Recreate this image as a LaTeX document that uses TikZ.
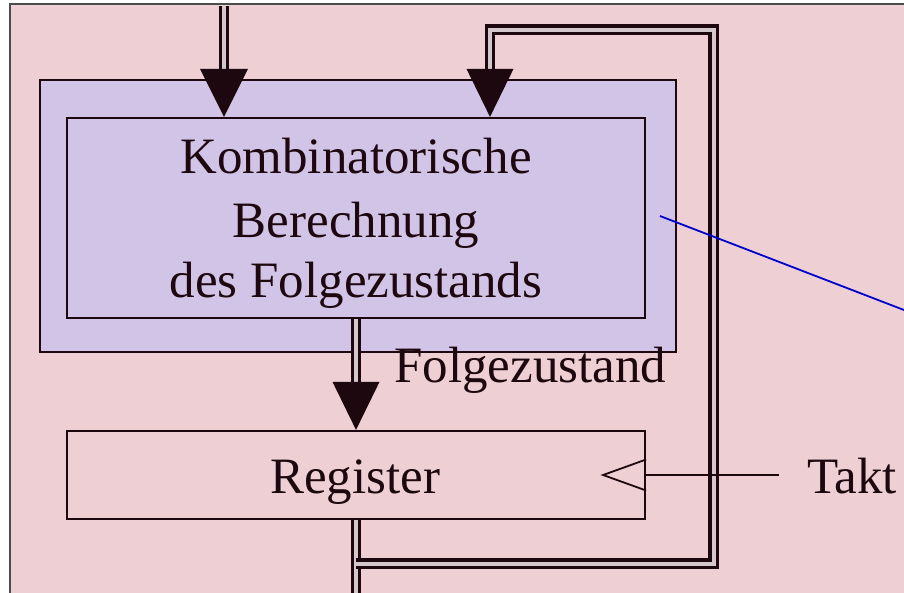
\documentclass[tikz,border=0pt]{standalone}
\usepackage{fontspec}
\setmainfont{Liberation Serif}
\usetikzlibrary{calc}
\definecolor{paper}{RGB}{238,208,212}
\definecolor{shadefill}{RGB}{210,196,230}
\definecolor{ink}{RGB}{30,8,16}
\definecolor{wirecol}{RGB}{0,0,205}
\definecolor{gapfill}{RGB}{212,200,204}
\begin{document}
\begin{tikzpicture}[x=1pt,y=-1pt,
  box/.style={draw=ink, line width=2.2pt, rectangle, inner sep=0pt},
  lbl/.style={text=ink, inner sep=0pt, font=\fontsize{51}{60}\selectfont},
  dbl/.style={draw=ink, line width=3.2pt, double=gapfill, double distance=4pt},
  head/.style={fill=ink},
  thinline/.style={draw=ink, line width=1.8pt},
  wireline/.style={draw=wirecol, line width=1.8pt},
]
\useasboundingbox (0,0) rectangle (904,592);
\fill[white] (0,0) rectangle (904,592);
\begin{scope}
\clip (0,0) rectangle (904,592);
% page frame
\draw[fill=paper, draw=black!70, line width=2pt] (10,4) rectangle (960,640);

% shaded block and the combinational logic
\node[box, fill=shadefill, minimum width=636pt, minimum height=272pt] (shadebox) at (358,216) {};
\node[box, minimum width=578pt, minimum height=200pt] (logic) at (356,218) {};
\node[lbl, anchor=base] (l1) at (356,173) {Kombinatorische};
\node[lbl, anchor=base] (l2) at (356,237) {Berechnung};
\node[lbl, anchor=base] (l3) at (356,297) {des Folgezustands};

% register
\node[box, minimum width=578pt, minimum height=88pt] (reg) at (356,475) {};
\node[lbl, anchor=base] (regtext) at (355,493) {Register};

\node[lbl, anchor=base west] (next) at (394,382) {Folgezustand};
\node[lbl, anchor=base west] (takt) at (807,493) {Takt};

% external input
\coordinate (in1) at (224,6);
\draw[dbl] (in1) -- ($(logic.north -| in1)+(0,-46)$);
\fill[head] (logic.north -| in1) -- ++(-24,-48) -- ++(48,0) -- cycle;

% next state into the register
\draw[dbl] (logic.south) -- ($(reg.north)+(0,-46)$);
\fill[head] (reg.north) -- ++(-23.5,-48) -- ++(47,0) -- cycle;

% register output
\coordinate (out) at (356,600);
\draw[dbl] (reg.south) -- (out);

% state feedback
\coordinate (fbstart) at (356,563.5);
\coordinate (fbcorner) at (713.5,29.5);
\coordinate (fbtop) at (490,29.5);
\draw[dbl] (fbstart) -| (fbcorner) -| ($(logic.north -| fbtop)+(0,-46)$);
\fill[head] (logic.north -| fbtop) -- ++(-23.5,-48) -- ++(47,0) -- cycle;

% clock input
\coordinate (clk) at (779,475);
\draw[thinline] ($(reg.east)+(0,-15.5)$) -- ($(reg.east)+(-43,0)$) -- ($(reg.east)+(0,15.5)$);
\draw[thinline] (reg.east) -- (clk);

% pointer line
\coordinate (wirestart) at (660,216);
\coordinate (wireend) at (1000,347);
\draw[wireline] (wirestart) -- (wireend);
\end{scope}
\end{tikzpicture}
\end{document}
